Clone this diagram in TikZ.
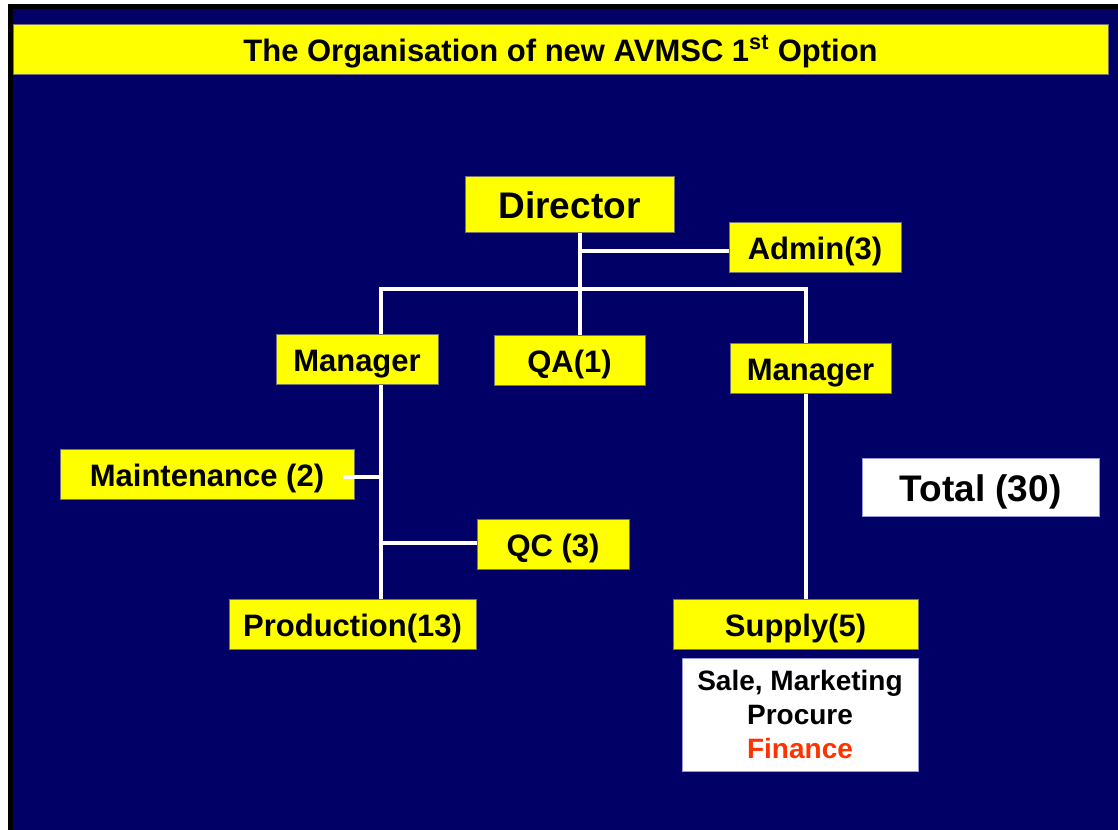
\documentclass[tikz,border=0pt]{standalone}
\usepackage{fontspec}
\setmainfont{Liberation Sans}
\pgfdeclarelayer{bg}
\pgfdeclarelayer{wires}
\pgfsetlayers{bg,wires,main}
\definecolor{slide}{HTML}{000066}
\definecolor{boxyellow}{HTML}{FFFF00}
\definecolor{finred}{HTML}{FF3300}
\tikzset{
  ybox/.style={fill=boxyellow, draw=black!55, line width=0.4pt, inner sep=0pt,
    text=black, text height=18.6pt, text depth=0pt,
    font=\fontsize{23.25}{28}\selectfont\bfseries},
  bigtext/.style={text height=22.2pt, text depth=0pt,
    font=\fontsize{27.75}{32}\selectfont\bfseries},
  wbox/.style={fill=white, draw=black!35!blue!40, line width=0.4pt, inner sep=0pt,
    text=black, align=center},
  wire/.style={draw=white, line width=3.4pt},
}
\begin{document}
\begin{tikzpicture}[x=0.75pt, y=-0.75pt]
\useasboundingbox (0,0) rectangle (1118,830);

% slide frame and background
\begin{pgfonlayer}{bg}
  \fill[white] (0,0) rectangle (1118,830);
  \fill[black] (8,4) rectangle (1118,830);
  \fill[slide] (13,9) rectangle (1118,830);
\end{pgfonlayer}

% title bar
\node[ybox, minimum width=821.25pt, minimum height=37.5pt] (title) at (560.5,49)
  {The Organisation of new AVMSC 1\textsuperscript{st} Option};

% organisation boxes
\node[ybox, bigtext, minimum width=156.75pt, minimum height=42pt] (director) at (569.5,204) {Director};
\node[ybox, minimum width=129pt, minimum height=37.5pt] (admin) at (815,247) {Admin(3)};
\node[ybox, minimum width=121.5pt, minimum height=37.5pt] (mgrL) at (357,359) {Manager};
\node[ybox, minimum width=113.25pt, minimum height=37.5pt] (qa) at (569.5,360) {QA(1)};
\node[ybox, minimum width=120.75pt, minimum height=37.5pt] (mgrR) at (810.5,368) {Manager};
\node[ybox, minimum width=220.5pt, minimum height=37.5pt] (maint) at (207,474) {Maintenance (2)};
\node[ybox, minimum width=114pt, minimum height=37.5pt] (qc) at (553,544) {QC (3)};
\node[ybox, minimum width=185.25pt, minimum height=37.5pt] (prod) at (352.5,624) {Production(13)};
\node[ybox, minimum width=183.75pt, minimum height=37.5pt] (supply) at (795.5,624) {Supply(5)};

\node[wbox, minimum width=177pt, minimum height=84.75pt,
      font=\fontsize{21}{25.5}\selectfont\bfseries] (tasks) at (800,714.5)
  {Sale, Marketing\\Procure\\\textcolor{finred}{Finance}};
\node[wbox, bigtext, minimum width=177.75pt, minimum height=43.5pt] (total) at (980.5,487) {Total (30)};

% junction points of the tree
\coordinate (trunk) at (580,251);
\coordinate (barL) at (381,289);
\coordinate (barR) at (806,289);
\coordinate (mJ) at (381,477);
\coordinate (mEnd) at (343,477);
\coordinate (qJ) at (381,543);

% connectors, drawn behind the boxes
\begin{pgfonlayer}{wires}
  \draw[wire] (director.south -| trunk) -- (qa.north -| trunk);
  \draw[wire] (trunk) -- (trunk -| admin.west);
  \draw[wire, line cap=rect] (barL) -- (barR);
  \draw[wire] (barL) -- (prod.north -| barL);
  \draw[wire] (barR) -- (supply.north -| barR);
  \draw[wire] (qJ) -- (qJ -| qc.west);
\end{pgfonlayer}
% short stub reaching into the maintenance box
\draw[wire] (mEnd) -- (mJ);
\end{tikzpicture}
\end{document}
